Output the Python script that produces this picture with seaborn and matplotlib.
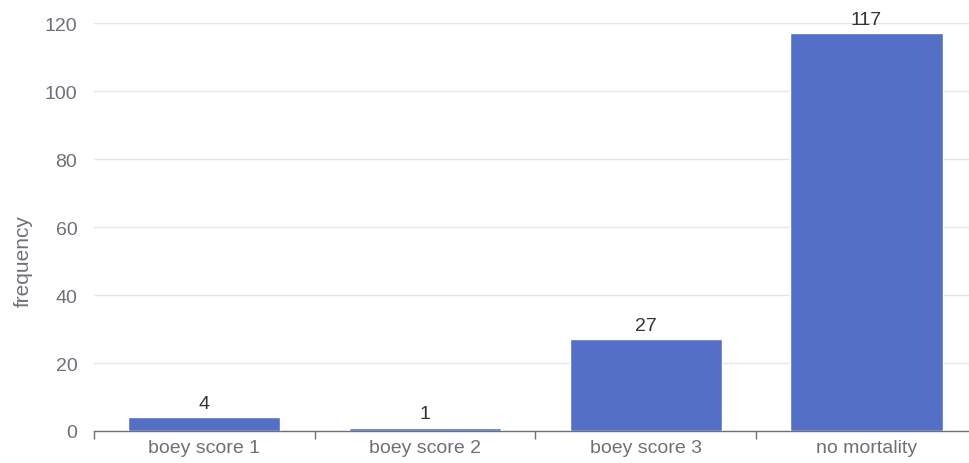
import matplotlib
matplotlib.use("Agg")
import matplotlib.pyplot as plt
import seaborn as sns
import pandas as pd

categories = ["boey score 1", "boey score 2", "boey score 3", "no mortality"]
counts = [4, 1, 27, 117]
y_ticks = [0, 20, 40, 60, 80, 100, 120]

df = pd.DataFrame({"category": categories, "frequency": counts})

sns.set_theme(style="white")
plt.rcParams["font.family"] = ["Liberation Sans", "DejaVu Sans"]

fig = plt.figure(figsize=(9.69, 4.64), dpi=100)
# the category axis runs a little past the right edge of the image
ax = fig.add_axes([0.097, 0.069, 0.911, 0.879])

sns.barplot(data=df, x="category", y="frequency", color="#5470c6",
            saturation=1, width=0.69, ax=ax, zorder=3)

for i, v in enumerate(counts):
    ax.text(i, v + 1.5, str(v), ha="center", va="bottom",
            fontsize=14, color="#333333", zorder=4)

ax.set_ylim(0, 120)
ax.set_xlim(-0.5, len(categories) - 0.5)
ax.set_yticks(y_ticks)
ax.grid(axis="y", color="#e0e6f1", linewidth=1, zorder=0)
ax.grid(axis="x", visible=False)

for s in ["top", "right", "left"]:
    ax.spines[s].set_visible(False)
ax.spines["bottom"].set_color("#6e7079")
ax.spines["bottom"].set_linewidth(1)

# category boundary ticks on the x-axis
ax.set_xticks([i - 0.5 for i in range(len(categories) + 1)], minor=False)
ax.set_xticklabels([])
ax.set_xticks(range(len(categories)), minor=True)
ax.set_xticklabels(categories, minor=True)
ax.tick_params(axis="x", which="major", length=6, width=1, color="#6e7079",
               direction="out", bottom=True)
ax.tick_params(axis="x", which="minor", length=0, labelsize=14,
               labelcolor="#6e7079", pad=6)
ax.tick_params(axis="y", length=0, labelsize=14, labelcolor="#6e7079", pad=12)

ax.set_xlabel("")
ax.set_ylabel("frequency", fontsize=15, color="#6e7079")
ax.yaxis.set_label_coords(-0.069, 0.42)

fig.savefig("out.png", dpi=100)
